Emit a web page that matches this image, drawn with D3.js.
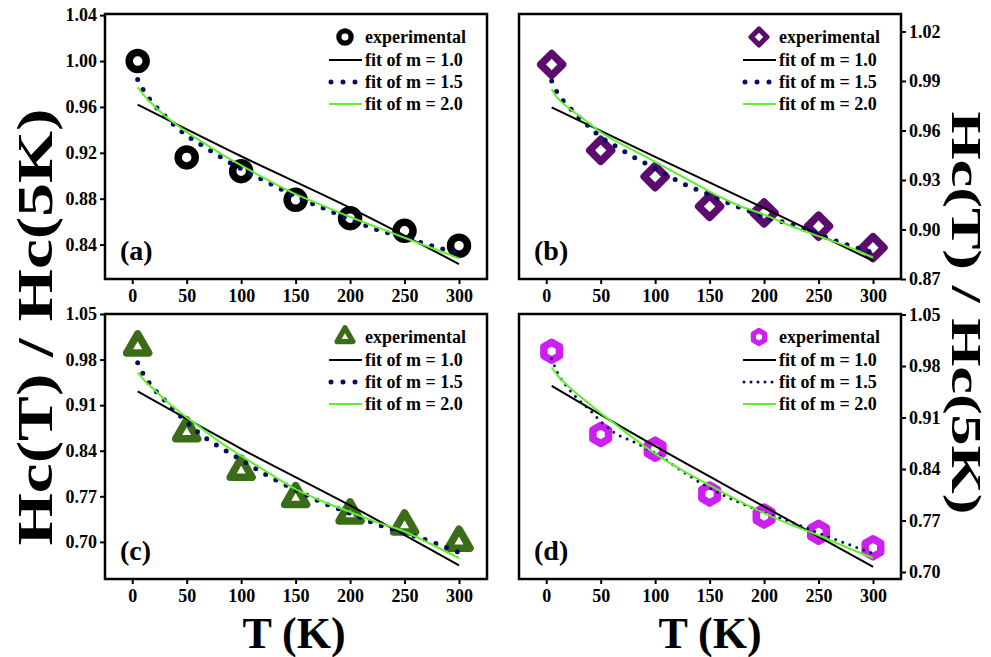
<!DOCTYPE html>
<html>
<head>
<meta charset="utf-8">
<script src="https://cdn.jsdelivr.net/npm/d3@7"></script>
<style>
  body { margin: 0; background: #fff; }
  svg text { font-family: "Times New Roman", Times, "Liberation Serif", "Nimbus Roman", "Nimbus Roman No9 L", serif; font-weight: bold; }
</style>
</head>
<body>
<div id="chart"></div>
<script>
// measured temperatures and fit sample temperatures
var tempsExp = [5, 50, 100, 150, 200, 250, 300];
var tempsFit = [5, 10, 20, 30, 40, 50, 60, 80, 100, 125, 150, 175, 200, 225, 250, 275, 300];
var tempsLin = [5, 100, 200, 300];
var xTicks = [0, 50, 100, 150, 200, 250, 300];

// (a)
var expA   = [1.000, 0.916, 0.904, 0.879, 0.863, 0.852, 0.839];
var fit1A  = [0.962, 0.917, 0.872, 0.823];
var fit15A = [0.984, 0.975, 0.962, 0.952, 0.943, 0.935, 0.929, 0.917, 0.906, 0.894, 0.882, 0.872, 0.862, 0.853, 0.846, 0.839, 0.832];
var fit2A  = [0.977, 0.971, 0.961, 0.952, 0.945, 0.938, 0.932, 0.920, 0.909, 0.896, 0.884, 0.874, 0.864, 0.855, 0.846, 0.837, 0.828];
var yTicksA = [0.84, 0.88, 0.92, 0.96, 1.00, 1.04];

// (b)
var expB   = [1.000, 0.948, 0.932, 0.914, 0.910, 0.902, 0.889];
var fit1B  = [0.974, 0.944, 0.913, 0.881];
var fit15B = [0.990, 0.983, 0.975, 0.968, 0.962, 0.956, 0.952, 0.944, 0.937, 0.928, 0.921, 0.914, 0.908, 0.903, 0.897, 0.891, 0.886];
var fit2B  = [0.985, 0.980, 0.974, 0.969, 0.964, 0.959, 0.955, 0.948, 0.941, 0.932, 0.923, 0.915, 0.909, 0.902, 0.896, 0.890, 0.883];
var yTicksB = [0.87, 0.90, 0.93, 0.96, 0.99, 1.02];

// (c)
var expC   = [1.000, 0.868, 0.809, 0.767, 0.742, 0.725, 0.700];
var fit1C  = [0.931, 0.843, 0.756, 0.664];
var fit15C = [0.975, 0.958, 0.935, 0.917, 0.900, 0.884, 0.869, 0.846, 0.826, 0.801, 0.780, 0.760, 0.744, 0.727, 0.714, 0.700, 0.684];
var fit2C  = [0.960, 0.950, 0.934, 0.918, 0.904, 0.891, 0.879, 0.854, 0.832, 0.806, 0.781, 0.762, 0.746, 0.730, 0.716, 0.696, 0.675];
var yTicksC = [0.70, 0.77, 0.84, 0.91, 0.98, 1.05];

// (d)
var expD   = [1.000, 0.887, 0.867, 0.806, 0.776, 0.754, 0.733];
var fit1D  = [0.953, 0.871, 0.789, 0.707];
var fit15D = [0.990, 0.972, 0.950, 0.934, 0.920, 0.905, 0.892, 0.877, 0.862, 0.837, 0.814, 0.796, 0.781, 0.768, 0.753, 0.739, 0.725];
var fit2D  = [0.978, 0.968, 0.953, 0.940, 0.928, 0.916, 0.905, 0.882, 0.861, 0.838, 0.818, 0.798, 0.780, 0.764, 0.750, 0.734, 0.719];
var yTicksD = [0.70, 0.77, 0.84, 0.91, 0.98, 1.05];

var legendLabels = ["experimental", "fit of m = 1.0", "fit of m = 1.5", "fit of m = 2.0"];

var panels = [
  { label: "(a)", left: 105, top: 14,  side: "left",  yDomain: [0.810, 1.041], yTicks: yTicksA,
    exp: expA, f1: fit1A, f15: fit15A, f2: fit2A, marker: "circle",  color: "#000000", dot: [5, 11.5] },
  { label: "(b)", left: 519, top: 14,  side: "right", yDomain: [0.870, 1.0306], yTicks: yTicksB,
    exp: expB, f1: fit1B, f15: fit15B, f2: fit2B, marker: "diamond", color: "#5a0d6c", dot: [5, 11.5] },
  { label: "(c)", left: 105, top: 314, side: "left",  yDomain: [0.643, 1.050], yTicks: yTicksC,
    exp: expC, f1: fit1C, f15: fit15C, f2: fit2C, marker: "triangle", color: "#3b6c17", dot: [5, 11.5] },
  { label: "(d)", left: 519, top: 314, side: "right", yDomain: [0.6905, 1.0507], yTicks: yTicksD,
    exp: expD, f1: fit1D, f15: fit15D, f2: fit2D, marker: "hexagon", color: "#cc1ff0", dot: [3, 7.5] }
];

var W = 382, H = 265;
var blue = "#0b0b66", green = "#5ef02a";

var svg = d3.select("#chart").append("svg")
    .attr("width", 991)
    .attr("height", 657);

function markerPath(kind, s) {
  if (kind === "circle") return d3.symbol(d3.symbolCircle, Math.PI * 8.5 * 8.5 * s * s)();
  if (kind === "diamond") return d3.symbol(d3.symbolSquare, 15.5 * 15.5 * s * s)();
  if (kind === "triangle") return d3.symbol(d3.symbolTriangle, Math.sqrt(3) / 4 * 22 * 22 * s * s)();
  var r = 9 * s, pts = d3.range(6).map(function(k) {
    var a = (-90 + 60 * k) * Math.PI / 180;
    return [r * Math.cos(a), r * Math.sin(a)];
  });
  return "M" + pts.join("L") + "Z";
}

panels.forEach(function(p) {
  var g = svg.append("g").attr("transform", "translate(" + p.left + "," + p.top + ")");

  var x = d3.scaleLinear().domain([-25, 325.7]).range([0, W]);
  var y = d3.scaleLinear().domain(p.yDomain).range([H, 0]);

  // axes
  var xAxis = g.append("g").attr("transform", "translate(0," + H + ")")
      .call(d3.axisBottom(x).tickValues(xTicks).tickSizeInner(5).tickSizeOuter(0).tickPadding(5));
  var yAxis = p.side === "left" ? d3.axisLeft(y) : d3.axisRight(y);
  var yG = g.append("g")
      .attr("transform", p.side === "left" ? null : "translate(" + W + ",0)")
      .call(yAxis.tickValues(p.yTicks).tickFormat(d3.format(".2f")).tickSizeInner(5).tickSizeOuter(0).tickPadding(3));
  [xAxis, yG].forEach(function(a) {
    a.attr("font-family", null);
    a.select(".domain").remove();
    a.selectAll("line").attr("stroke", "#000").attr("stroke-width", 2);
    a.selectAll("text").attr("font-size", 18).attr("fill", "#000");
  });

  // experimental markers
  var sw = 7.5;
  g.selectAll(".pt").data(tempsExp.map(function(t, i) { return [t, p.exp[i]]; }))
    .enter().append("path")
      .attr("d", markerPath(p.marker, 1))
      .attr("transform", function(d) {
        return "translate(" + x(d[0]) + "," + y(d[1]) + ")" + (p.marker === "diamond" ? " rotate(45)" : "");
      })
      .attr("fill", "none")
      .attr("stroke", p.color)
      .attr("stroke-width", sw)
      .attr("stroke-linejoin", "round");

  // fits
  var line = d3.line().x(function(d) { return x(d[0]); }).y(function(d) { return y(d[1]); })
      .curve(d3.curveMonotoneX);
  g.append("path")
      .attr("d", line(tempsLin.map(function(t, i) { return [t, p.f1[i]]; })))
      .attr("fill", "none").attr("stroke", "#000").attr("stroke-width", 2);
  g.append("path")
      .attr("d", line(tempsFit.map(function(t, i) { return [t, p.f15[i]]; })))
      .attr("fill", "none").attr("stroke", blue).attr("stroke-width", p.dot[0])
      .attr("stroke-linecap", "round").attr("stroke-dasharray", "0," + p.dot[1]);
  g.append("path")
      .attr("d", line(tempsFit.map(function(t, i) { return [t, p.f2[i]]; })))
      .attr("fill", "none").attr("stroke", green).attr("stroke-width", 2);

  // frame
  g.append("rect").attr("width", W).attr("height", H)
      .attr("fill", "none").attr("stroke", "#000").attr("stroke-width", 2.5);

  // panel label
  g.append("text").attr("x", 15).attr("y", H - 19)
      .attr("font-size", 28).text(p.label);

  // legend
  var rows = [23, 46, 68, 90];
  var lg = g.append("g").attr("transform", "translate(" + W + ",0)");
  lg.append("path")
      .attr("d", markerPath(p.marker, 0.72))
      .attr("transform", "translate(-142," + rows[0] + ")" + (p.marker === "diamond" ? " rotate(45)" : ""))
      .attr("fill", "none").attr("stroke", p.color).attr("stroke-width", sw * 0.7)
      .attr("stroke-linejoin", "round");
  lg.append("line").attr("x1", -158).attr("x2", -125).attr("y1", rows[1]).attr("y2", rows[1])
      .attr("stroke", "#000").attr("stroke-width", 2);
  lg.append("line").attr("x1", p.dot[1] > 10 ? -156 : -157).attr("x2", -125).attr("y1", rows[2]).attr("y2", rows[2])
      .attr("stroke", blue).attr("stroke-width", p.dot[0])
      .attr("stroke-linecap", "round").attr("stroke-dasharray", "0," + (p.dot[1] > 10 ? 12 : 7));
  lg.append("line").attr("x1", -158).attr("x2", -125).attr("y1", rows[3]).attr("y2", rows[3])
      .attr("stroke", green).attr("stroke-width", 2);
  lg.selectAll(".lt").data(legendLabels).enter().append("text")
      .attr("x", -122).attr("y", function(d, i) { return rows[i]; })
      .attr("dy", "0.35em").attr("font-size", 18).text(function(d) { return d; });
});

// axis titles
[294, 710].forEach(function(cx) {
  svg.append("text").attr("x", cx).attr("y", 648).attr("text-anchor", "middle")
      .attr("font-size", 44).text("T (K)");
});
svg.append("text")
    .attr("transform", "translate(52,327) rotate(-90)")
    .attr("text-anchor", "middle").attr("font-size", 50)
    .attr("textLength", 437).attr("lengthAdjust", "spacingAndGlyphs")
    .text("Hc(T) / Hc(5K)");
svg.append("text")
    .attr("transform", "translate(952,313) rotate(90)")
    .attr("text-anchor", "middle").attr("font-size", 42)
    .attr("textLength", 403).attr("lengthAdjust", "spacingAndGlyphs")
    .text("Hc(T) / Hc(5K)");
</script>
</body>
</html>
